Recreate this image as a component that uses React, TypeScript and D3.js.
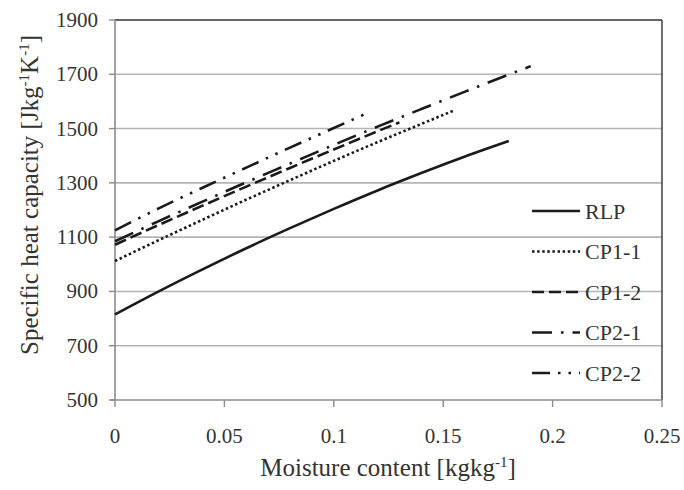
import React from 'react';
import * as d3 from 'd3';

// moisture content [kg/kg] and specific heat capacity [J/kgK]
const rlpX = [0, 0.02, 0.04, 0.06, 0.08, 0.1, 0.12, 0.14, 0.16, 0.18];
const rlpY = [815, 900, 981, 1059, 1133, 1204, 1272, 1336, 1397, 1454];

const cp11X = [0, 0.02, 0.04, 0.06, 0.08, 0.1, 0.12, 0.14, 0.155];
const cp11Y = [1012, 1089, 1164, 1238, 1310, 1381, 1450, 1517, 1567];

const cp12X = [0, 0.02, 0.04, 0.06, 0.08, 0.1, 0.12, 0.13];
const cp12Y = [1072, 1145, 1216, 1286, 1355, 1423, 1490, 1523];

const cp21X = [0, 0.02, 0.04, 0.06, 0.08, 0.1, 0.12, 0.14, 0.16, 0.18, 0.19];
const cp21Y = [1085, 1159, 1231, 1302, 1371, 1440, 1507, 1572, 1636, 1699, 1730];

const cp22X = [0, 0.02, 0.04, 0.06, 0.08, 0.1, 0.115];
const cp22Y = [1125, 1206, 1282, 1356, 1430, 1502, 1556];

const seriesNames = ['RLP', 'CP1-1', 'CP1-2', 'CP2-1', 'CP2-2'];
const xTicks = [0, 0.05, 0.1, 0.15, 0.2, 0.25];
const xTickLabels = ['0', '0.05', '0.1', '0.15', '0.2', '0.25'];
const yTicks = [500, 700, 900, 1100, 1300, 1500, 1700, 1900];

const dashes = ['none', '2.5 2.6', '12 5', '20 9 2.5 9', '18 8 2.5 8 2.5 8'];
const FONT = '"Liberation Serif", "Times New Roman", serif';

export default function App() {
  const width = 684, height = 490;
  const margin = { top: 20, right: 22, bottom: 90, left: 115 };
  const x = d3.scaleLinear().domain([0, 0.25]).range([margin.left, width - margin.right]);
  const y = d3.scaleLinear().domain([500, 1900]).range([height - margin.bottom, margin.top]);

  const series = [
    rlpX.map((v, i) => [v, rlpY[i]]),
    cp11X.map((v, i) => [v, cp11Y[i]]),
    cp12X.map((v, i) => [v, cp12Y[i]]),
    cp21X.map((v, i) => [v, cp21Y[i]]),
    cp22X.map((v, i) => [v, cp22Y[i]]),
  ];

  const line = d3.line<number[]>()
    .x(d => x(d[0]))
    .y(d => y(d[1]))
    .curve(d3.curveMonotoneX);

  const x0 = x(0), x1 = x(0.25), yTop = y(1900), yBot = y(500);

  return (
    <svg width={width} height={height} style={{ position: 'absolute', left: 0, top: 0, background: '#fff' }}
      fontFamily={FONT}>
      {/* gridlines */}
      {yTicks.slice(1, -1).map(t => (
        <line key={t} x1={x0} x2={x1} y1={y(t)} y2={y(t)} stroke="#b4b4b4" strokeWidth={1.6} />
      ))}
      {/* top/right frame */}
      <line x1={x0} x2={x1} y1={yTop} y2={yTop} stroke="#333" strokeWidth={1.4} />
      <line x1={x1} x2={x1} y1={yTop} y2={yBot} stroke="#333" strokeWidth={1.4} />
      {/* axes */}
      <line x1={x0} x2={x0} y1={yTop} y2={yBot} stroke="#8c8c8c" strokeWidth={1.6} />
      <line x1={x0 - 5} x2={x1} y1={yBot} y2={yBot} stroke="#8c8c8c" strokeWidth={1.6} />
      {yTicks.map(t => (
        <g key={t}>
          <line x1={x0 - 6} x2={x0} y1={y(t)} y2={y(t)} stroke="#8c8c8c" strokeWidth={1.4} />
          <text x={98} y={y(t) + 7} textAnchor="end" fontSize={21} fill="#333">{t}</text>
        </g>
      ))}
      {xTicks.map((t, i) => (
        <g key={t}>
          <line x1={x(t)} x2={x(t)} y1={yBot} y2={yBot + 7} stroke="#8c8c8c" strokeWidth={1.4} />
          <text x={x(t)} y={443} textAnchor="middle" fontSize={21} fill="#333">{xTickLabels[i]}</text>
        </g>
      ))}

      {/* series */}
      {series.map((s, i) => (
        <path key={seriesNames[i]} d={line(s) || ''} fill="none" stroke="#1a1a1a" strokeWidth={2.6}
          strokeDasharray={dashes[i]} />
      ))}

      {/* legend */}
      {seriesNames.map((n, i) => {
        const ly = 211 + i * 40.5;
        return (
          <g key={n}>
            <line x1={532} x2={580} y1={ly} y2={ly} stroke="#1a1a1a" strokeWidth={2.6} strokeDasharray={dashes[i]} />
            <text x={585} y={ly + 7.5} fontSize={22} fill="#333">{n}</text>
          </g>
        );
      })}

      {/* axis titles */}
      <text x={388} y={476} textAnchor="middle" fontSize={25} fill="#333">
        Moisture content [kgkg<tspan dy={-9} fontSize={15}>-1</tspan><tspan dy={9}>]</tspan>
      </text>
      <text transform="translate(38,195) rotate(-90)" textAnchor="middle" fontSize={25} fill="#333">
        Specific heat capacity [Jkg<tspan dy={-9} fontSize={15}>-1</tspan><tspan dy={9}>K</tspan>
        <tspan dy={-9} fontSize={15}>-1</tspan><tspan dy={9}>]</tspan>
      </text>
    </svg>
  );
}
